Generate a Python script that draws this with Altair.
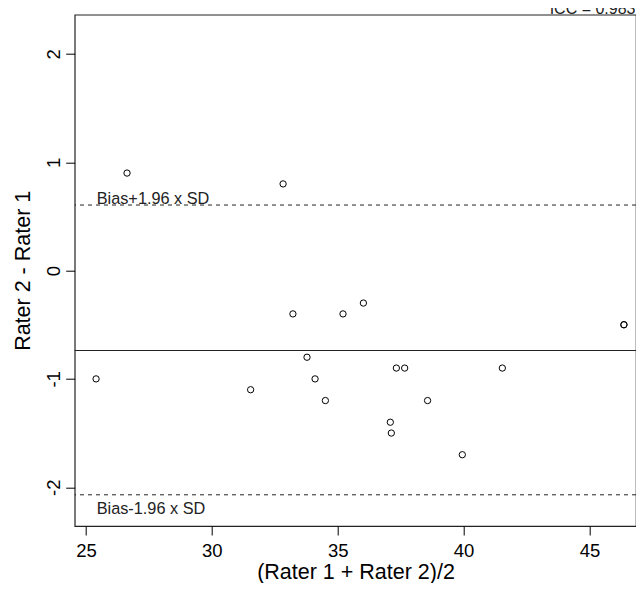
import altair as alt
import pandas as pd

# Bland-Altman data
mean_x = [25.40, 26.63, 31.54, 32.83, 33.22, 33.78, 34.10, 34.51, 35.21, 36.02,
          37.09, 37.13, 37.33, 37.66, 38.57, 39.95, 41.54, 46.37, 46.37]
diff_y = [-1.0, 0.9, -1.1, 0.8, -0.4, -0.8, -1.0, -1.2, -0.4, -0.3,
          -1.4, -1.5, -0.9, -0.9, -1.2, -1.7, -0.9, -0.5, -0.5]

bias = -0.738
upper_loa = 0.605
lower_loa = -2.07

label_upper = "Bias+1.96 x SD"
label_lower = "Bias-1.96 x SD"
icc_text = "ICC = 0.983"

x_ticks = [25, 30, 35, 40, 45]
y_ticks = [-2, -1, 0, 1, 2]

FONT = "Liberation Sans"

pts = pd.DataFrame({"x": mean_x, "y": diff_y})
xs = alt.Scale(domain=[24.551, 46.85], nice=False, zero=False)
ys = alt.Scale(domain=[-2.358, 2.362], nice=False, zero=False)

xaxis = alt.Axis(values=x_ticks, title="(Rater 1 + Rater 2)/2", grid=False, domain=False,
                 tickSize=9, tickColor="black", labelPadding=6.6, labelFontSize=18.5,
                 labelColor="black", labelFont=FONT, titleFont=FONT, titleFontSize=21.5,
                 titleFontWeight="normal", titleColor="black", titleBaseline="alphabetic",
                 titleY=52.5, titleX=280.8, labelFlush=False, labelExpr="'' + datum.value")
yaxis = alt.Axis(values=y_ticks, title="Rater 2 - Rater 1", grid=False, domain=False,
                 tickSize=9, tickColor="black", labelPadding=5.7, labelFontSize=18.5,
                 labelAngle=270, labelAlign="center", labelBaseline="alphabetic",
                 labelColor="black", labelFont=FONT, titleFont=FONT, titleFontSize=21.5,
                 titleFontWeight="normal", titleColor="black", titleAngle=270,
                 titleAlign="center", titleBaseline="alphabetic", titleX=-45.4,
                 titleY=255.6, labelFlush=False, labelExpr="'' + datum.value")

points = alt.Chart(pts).mark_point(shape="circle", filled=False, color="black",
                                   size=40, strokeWidth=1, opacity=1).encode(
    x=alt.X("x:Q", scale=xs, axis=xaxis),
    y=alt.Y("y:Q", scale=ys, axis=yaxis),
)

mean_rule = alt.Chart(pd.DataFrame({"y": [bias]})).mark_rule(
    color="#222222", strokeWidth=1.2).encode(y=alt.Y("y:Q", scale=ys))

loa_rules = alt.Chart(pd.DataFrame({"y": [upper_loa, lower_loa]})).mark_rule(
    color="#222222", strokeWidth=1, strokeDash=[4, 4]).encode(y=alt.Y("y:Q", scale=ys))

txt_up = alt.Chart(pd.DataFrame({"x": [25.425], "y": [upper_loa], "t": [label_upper]})).mark_text(
    align="left", baseline="alphabetic", dy=-1, fontSize=16.3, font=FONT, color="#222222"
).encode(x=alt.X("x:Q", scale=xs), y=alt.Y("y:Q", scale=ys), text="t:N")

txt_lo = alt.Chart(pd.DataFrame({"x": [25.425], "y": [lower_loa], "t": [label_lower]})).mark_text(
    align="left", baseline="alphabetic", dy=19, fontSize=16.3, font=FONT, color="#222222"
).encode(x=alt.X("x:Q", scale=xs), y=alt.Y("y:Q", scale=ys), text="t:N")

txt_icc = alt.Chart(pd.DataFrame({"t": [icc_text]})).mark_text(
    align="right", baseline="alphabetic", fontSize=16, font=FONT, color="#222222"
).encode(x=alt.value(560.8), y=alt.value(-0.8), text="t:N")

chart = alt.layer(mean_rule, loa_rules, points, txt_up, txt_lo, txt_icc).properties(
    width=561.3, height=511.3,
    autosize=alt.AutoSizeParams(type="none"),
    padding={"left": 66.7, "top": 6.7, "right": 0, "bottom": 57},
    background="white",
).configure_view(stroke="#222222", strokeWidth=1.2)

chart.save("out.html", embed_options={"renderer": "svg", "actions": False})
